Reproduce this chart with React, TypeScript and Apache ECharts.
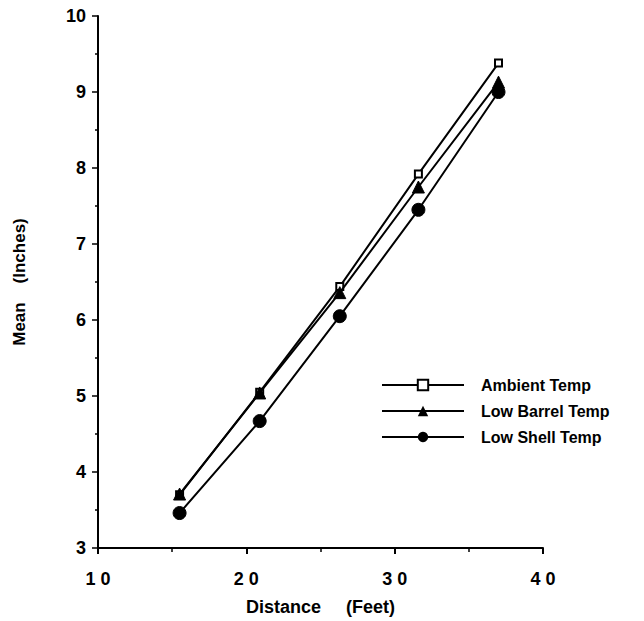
import React, { useEffect, useRef } from "react";
import * as echarts from "echarts";

const distance = [15.5, 20.9, 26.3, 31.6, 37.0];
const ambientTemp = [3.7, 5.05, 6.44, 7.92, 9.38];
const lowBarrelTemp = [3.71, 5.04, 6.36, 7.75, 9.13];
const lowShellTemp = [3.46, 4.67, 6.05, 7.45, 9.0];
const seriesNames = ["Ambient Temp", "Low Barrel Temp", "Low Shell Temp"];

const font = "'Liberation Sans', Arial, sans-serif";

export default function App() {
  const ref = useRef<HTMLDivElement>(null);
  useEffect(() => {
    if (!ref.current) return;
    const chart = echarts.init(ref.current, null, { renderer: "svg" });
    const pair = (ys: number[]) => distance.map((x, i) => [x, ys[i]]);
    const base = {
      type: "line" as const,
      lineStyle: { color: "#000", width: 2 },
      itemStyle: { color: "#000", borderColor: "#000" },
      emphasis: { disabled: true },
    };
    chart.setOption({
      animation: false,
      backgroundColor: "#fff",
      textStyle: { fontFamily: font },
      grid: { left: 98, right: 101, top: 16, bottom: 73, containLabel: false, outerBoundsMode: "none" },
      legend: {
        orient: "vertical",
        left: 376,
        top: 372,
        itemWidth: 82,
        itemHeight: 13,
        itemGap: 10,
        selectedMode: false,
        data: seriesNames,
        textStyle: { fontFamily: font, fontWeight: "bold", fontSize: 16, lineHeight: 13, color: "#000", padding: [0, 0, 0, 12] },
      },
      xAxis: {
        type: "value",
        min: 10,
        max: 40,
        interval: 10,
        name: "Distance     (Feet)",
        nameLocation: "middle",
        nameGap: 50,
        nameTextStyle: { fontFamily: font, fontWeight: "bold", fontSize: 18, color: "#000" },
        axisLine: { show: true, lineStyle: { color: "#000", width: 2 } },
        axisTick: { show: true, length: 6, lineStyle: { color: "#000", width: 2 } },
        minorTick: { show: true, splitNumber: 2, length: 4, lineStyle: { color: "#000", width: 1.5 } },
        splitLine: { show: false },
        axisLabel: {
          fontFamily: font,
          fontWeight: "bold",
          fontSize: 18,
          color: "#000",
          margin: 22,
          formatter: (v: number) => String(v).split("").join(" "),
        },
      },
      yAxis: {
        type: "value",
        min: 3,
        max: 10,
        interval: 1,
        name: "Mean    (Inches)",
        nameLocation: "middle",
        nameGap: 70,
        nameRotate: 90,
        nameTextStyle: { fontFamily: font, fontWeight: "bold", fontSize: 17, color: "#000" },
        axisLine: { show: true, lineStyle: { color: "#000", width: 2 } },
        axisTick: { show: true, length: 6, lineStyle: { color: "#000", width: 1.5 } },
        minorTick: { show: true, splitNumber: 2, length: 3, lineStyle: { color: "#000", width: 1.5 } },
        splitLine: { show: false },
        axisLabel: { fontFamily: font, fontWeight: "bold", fontSize: 18, color: "#000", margin: 12 },
      },
      series: [
        { ...base, name: seriesNames[0], data: pair(ambientTemp), symbol: "emptyRect", symbolSize: 7, itemStyle: { color: "#000", borderColor: "#000", borderWidth: 2 }, z: 3 },
        { ...base, name: seriesNames[1], data: pair(lowBarrelTemp), symbol: "triangle", symbolSize: 12, z: 4 },
        { ...base, name: seriesNames[2], data: pair(lowShellTemp), symbol: "circle", symbolSize: 13, z: 2 },
      ],
    });
    return () => chart.dispose();
  }, []);
  return <div ref={ref} style={{ position: "absolute", left: 0, top: 0, width: 644, height: 621 }} />;
}
